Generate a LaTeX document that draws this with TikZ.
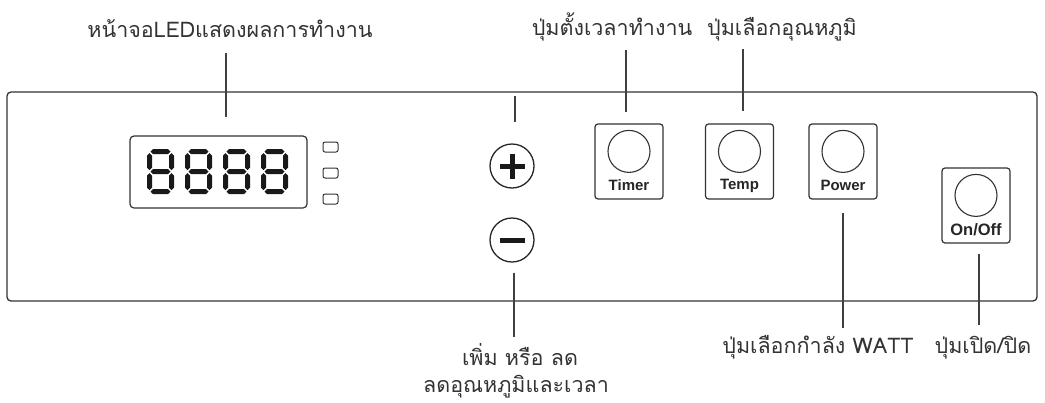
\documentclass[tikz,border=0pt]{standalone}
\usepackage{fontspec}
\newfontfamily\thaifont[Script=Thai]{Loma}
\newfontfamily\keyfont{Liberation Sans}
\usetikzlibrary{positioning}

\tikzset{
  panel/.style={draw=black!80, line width=1.3pt, rounded corners=4pt},
  lead/.style={draw=black!75, line width=1.2pt},
  lbl/.style={font=\thaifont\fontsize{21.5}{26}\selectfont, text=black!80, inner sep=0pt, anchor=base},
  btn/.style={draw=black!80, line width=1.2pt, rounded corners=3pt, minimum width=68pt, minimum height=75pt, inner sep=0pt},
  knob/.style={draw=black!80, line width=1.1pt, circle, minimum size=42pt, inner sep=0pt},
  pm/.style={draw=black!85, line width=1.3pt, circle, minimum size=44pt, inner sep=0pt},
  keytxt/.style={font=\keyfont\bfseries\fontsize{15}{17}\selectfont, text=black!85, inner sep=0pt},
  lamp/.style={draw=black!80, line width=1pt, rounded corners=2pt, minimum width=15pt, minimum height=10pt, inner sep=0pt},
  ledeight/.pic={
    \foreach \y in {0,20,40}
      \fill (2.5,\y) -- (5,\y-2.5) -- (20,\y-2.5) -- (22.5,\y) -- (20,\y+2.5) -- (5,\y+2.5) -- cycle;
    \foreach \x in {1.5,23.5}
      \foreach \y in {0,20}
        \fill (\x,\y+1.5) -- (\x+2.5,\y+4) -- (\x+2.5,\y+16) -- (\x,\y+18.5) -- (\x-2.5,\y+16) -- (\x-2.5,\y+4) -- cycle;
  }
}

\begin{document}
\begin{tikzpicture}[x=1pt, y=-1pt]
  \useasboundingbox (0,0) rectangle (1045,402);
  \draw[panel] (7,92) rectangle (1037,301);

  % display
  \node[draw=black!80, line width=1.2pt, rounded corners=4pt, minimum width=177pt, minimum height=72pt] (disp) at (218.5,172) {};
  \foreach \i in {0,1,2,3}
    \pic[black!90] at (148+38*\i,151.5) {ledeight};
  \node[lamp] (lampa) at (330.5,147) {};
  \node[lamp] (lampb) at (330.5,173) {};
  \node[lamp] (lampc) at (330.5,199) {};

  % plus / minus
  \node[pm] (plusbtn) at (512,166) {};
  \node[pm] (minusbtn) at (512,240) {};
  \draw[line width=5pt, black!90] ([xshift=-12.5pt]plusbtn.center) -- ([xshift=12.5pt]plusbtn.center);
  \draw[line width=5pt, black!90] ([yshift=-12.5pt]plusbtn.center) -- ([yshift=12.5pt]plusbtn.center);
  \draw[line width=5pt, black!90] ([xshift=-12.5pt]minusbtn.center) -- ([xshift=12.5pt]minusbtn.center);

  % keys
  \node[btn] (timer) at (629,161.5) {};
  \node[knob] (timerknob) at ([yshift=-28pt]timer.north) {};
  \node[keytxt] (timertxt) at ([yshift=-62pt]timer.north) {Timer};
  \node[btn] (temp) at (739.5,161.5) {};
  \node[knob] (tempknob) at ([yshift=-28pt]temp.north) {};
  \node[keytxt] (temptxt) at ([yshift=-62pt]temp.north) {Temp};
  \node[btn] (power) at (843,161.5) {};
  \node[knob] (powerknob) at ([yshift=-28pt]power.north) {};
  \node[keytxt] (powertxt) at ([yshift=-62pt]power.north) {Power};
  \node[btn] (onoff) at (976,205.5) {};
  \node[knob] (onoffknob) at ([yshift=-28pt]onoff.north) {};
  \node[keytxt, font=\keyfont\bfseries\fontsize{16.5}{18}\selectfont] (onofftxt) at ([yshift=-62pt]onoff.north) {On/Off};

  % labels
  \node[lbl] (ledlbl) at (230,37) {หน้าจอLEDแสดงผลการทำงาน};
  \node[lbl] (timerlbl) at (612,35) {ปุ่มตั้งเวลาทำงาน};
  \node[lbl] (templbl) at (782,35) {ปุ่มเลือกอุณหภูมิ};
  \node[lbl] (powerlbl) at (818,353) {ปุ่มเลือกกำลัง WATT};
  \node[lbl] (onofflbl) at (983,353) {ปุ่มเปิด/ปิด};
  \node[lbl] (adjlbl) at (520,365) {เพิ่ม หรือ ลด};
  \node[lbl] (adjlblb) at (516,392) {ลดอุณหภูมิและเวลา};

  % leaders
  \coordinate (ledtop) at (226,53);
  \coordinate (plustop) at (515,96);
  \coordinate (timertop) at (626,50);
  \coordinate (temptop) at (743,49);
  \coordinate (minusend) at (514,337);
  \coordinate (powerend) at (843,328);
  \coordinate (onoffend) at (979,325);
  \draw[lead, shorten >=18pt] (ledtop) -- (ledtop |- disp.north);
  \draw[lead, shorten >=21pt] (plustop) -- (plustop |- plusbtn.north);
  \draw[lead, shorten >=11pt] (timertop) -- (timertop |- timer.north);
  \draw[lead, shorten >=12pt] (temptop) -- (temptop |- temp.north);
  \draw[lead, shorten <=10pt] (minusbtn.south -| minusend) -- (minusend);
  \draw[lead, shorten <=13pt] (power.south -| powerend) -- (powerend);
  \draw[lead, shorten <=10pt] (onoff.south -| onoffend) -- (onoffend);
\end{tikzpicture}
\end{document}
